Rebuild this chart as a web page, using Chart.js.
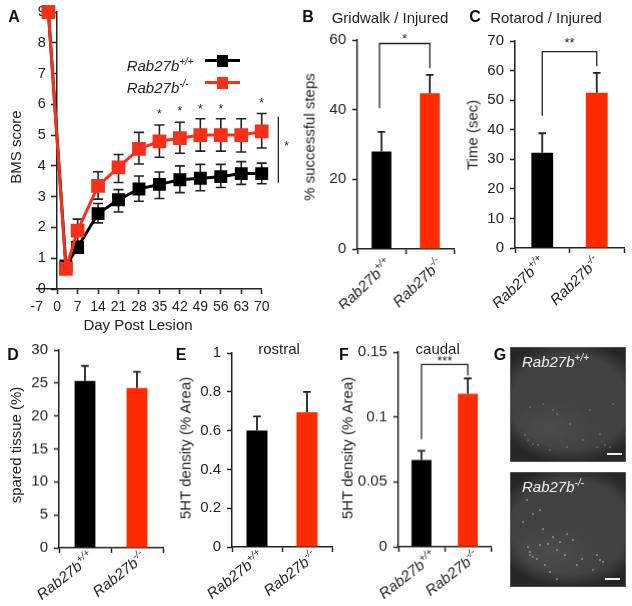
<!DOCTYPE html>
<html>
<head>
<meta charset="utf-8">
<script src="https://cdn.jsdelivr.net/npm/chart.js@4"></script>
<style>
  html, body { margin: 0; background: #fff; }
  #page { position: relative; width: 632px; height: 606px; overflow: hidden; font-family: "Liberation Sans", Arial, sans-serif; color: #222; filter: blur(0.35px); }
  canvas { position: absolute; }
  .txt { position: absolute; white-space: nowrap; transform: translate(-50%, -50%); font-size: 15px; }
  .letter { font-weight: bold; font-size: 16px; color: #111; }
  .ytitle { transform: translate(-50%, -50%) rotate(-90deg); }
  .gene { transform: translate(0, -50%); font-style: italic; font-size: 15px; }
  .gene sup { font-size: 10px; line-height: 0; }
  .photo { position: absolute; left: 510px; width: 115.5px; height: 115.5px; background-color: #262626; box-shadow: inset 0 0 0 0.5px #777; }
  .bar { position: absolute; height: 2px; background: #eee; }
  .swatch { position: absolute; height: 3px; }
  .swatch i { position: absolute; left: 12px; top: -4.5px; width: 11px; height: 12px; background: inherit; }
</style>
</head>
<body>
<div id="page"></div>
<script>
// --- Données ---
const days = [-3, 3, 7, 14, 21, 28, 35, 42, 49, 56, 63, 70];
const bmsWt = [9, 0.75, 1.35, 2.45, 2.9, 3.25, 3.4, 3.55, 3.6, 3.65, 3.75, 3.75];
const bmsKo = [9, 0.65, 1.9, 3.35, 3.95, 4.55, 4.8, 4.9, 5, 5, 5, 5.12];
const bmsWtHi = [null, null, 1.55, 2.78, 3.23, 3.67, 3.8, 4.0, 4.05, 4.05, 4.14, 4.09];
const bmsWtLo = [null, null, 1.2, 2.15, 2.5, 2.85, 2.94, 3.13, 3.19, 3.3, 3.4, 3.42];
const bmsKoHi = [null, null, 2.27, 3.81, 4.37, 5.09, 5.33, 5.42, 5.53, 5.53, 5.53, 5.7];
const bmsKoLo = [null, null, 1.55, 2.92, 3.46, 4.06, 4.28, 4.41, 4.48, 4.48, 4.45, 4.58];
const starDays = [35, 42, 49, 56, 70];
const starValues = [5.66, 5.76, 5.84, 5.84, 6.01];

const genotypes = ['Rab27b', 'Rab27b'];
const genotypeSups = ['+/+', '-/-'];

const gridwalk = [28, 44.7];
const gridwalkErr = [33.6, 50];
const rotarod = [32.2, 52.5];
const rotarodErr = [38.8, 59.2];
const spared = [25.3, 24.25];
const sparedErr = [27.6, 26.7];
const rostral = [0.6, 0.695];
const rostralErr = [0.673, 0.8];
const caudal = [0.0668, 0.1179];
const caudalErr = [0.074, 0.1297];

// Points lumineux des micrographies (repérés à l'œil, position en px dans la photo)
const specksWt = [[15, 88], [18, 93], [23, 97], [28, 98], [43, 63], [47, 67], [60, 77], [90, 87], [95, 98], [100, 100], [87, 100], [73, 93], [57, 100], [40, 103], [20, 60], [33, 57], [80, 63], [103, 57]];
const specksKo = [[20, 80], [23, 85], [18, 75], [33, 57], [38, 72], [43, 65], [57, 62], [63, 68], [47, 78], [55, 83], [30, 73], [27, 87], [20, 83], [87, 83], [90, 88], [93, 90], [83, 98], [40, 100], [47, 107], [17, 28], [23, 42], [30, 38], [13, 50], [67, 93], [72, 87], [50, 70], [35, 93]];

// --- Couleurs ---
const INK = '#222';
const RED = '#ff2a00';
const LINE_RED = '#f8301a';
const FONT = '"Liberation Sans", Arial, sans-serif';

const page = document.getElementById('page');

// --- Fonctions d'aide ---
function addText(text, x, y, cls = '') {
    const el = document.createElement('div');
    el.className = 'txt ' + cls;
    el.innerHTML = text;
    el.style.left = x + 'px';
    el.style.top = y + 'px';
    page.appendChild(el);
    return el;
}

function addCanvas(x, y, w, h) {
    const canvas = document.createElement('canvas');
    canvas.width = w;
    canvas.height = h;
    canvas.style.left = x + 'px';
    canvas.style.top = y + 'px';
    canvas.style.width = w + 'px';
    canvas.style.height = h + 'px';
    page.appendChild(canvas);
    return canvas;
}

// Barres d'erreur, placées avec les échelles du graphique
const errorBars = {
    id: 'errorBars',
    beforeDatasetsDraw(chart) {
        drawErrors(chart, 'line');
    },
    afterDatasetsDraw(chart) {
        drawErrors(chart, 'bar');
    }
};

function drawErrors(chart, type) {
    const ctx = chart.ctx;
    chart.data.datasets.forEach((ds, d) => {
        if (chart.config.type !== type || !ds.errHi) return;
        const meta = chart.getDatasetMeta(d);
        const y = chart.scales.y;
        ctx.save();
        ctx.strokeStyle = INK;
        ctx.lineWidth = type === 'bar' ? 1.8 : 1.6;
        const capHalf = type === 'bar' ? 3.8 : 5;
        ds.errHi.forEach((hi, i) => {
            if (hi === null) return;
            const px = meta.data[i].x;
            const lo = ds.errLo ? ds.errLo[i] : ds.data[i];
            const top = y.getPixelForValue(hi);
            const bottom = y.getPixelForValue(lo);
            ctx.beginPath();
            ctx.moveTo(px, top);
            ctx.lineTo(px, bottom);
            ctx.moveTo(px - capHalf, top);
            ctx.lineTo(px + capHalf, top);
            if (ds.errLo) {
                ctx.moveTo(px - capHalf, bottom);
                ctx.lineTo(px + capHalf, bottom);
            }
            ctx.stroke();
        });
        ctx.restore();
    });
}
Chart.register(errorBars);

// Libellés de l'axe x en italique, tournés, avec exposant
function geneTicks(shifts, drop, angle) {
    return {
        id: 'geneTicks',
        afterDraw(chart) {
            const ctx = chart.ctx;
            const x = chart.scales.x;
            genotypes.forEach((name, i) => {
                const sup = genotypeSups[i];
                ctx.save();
                ctx.translate(x.getPixelForTick(i) + shifts[i], x.top + drop);
                ctx.rotate(-angle * Math.PI / 180);
                ctx.fillStyle = INK;
                ctx.textAlign = 'right';
                ctx.textBaseline = 'middle';
                ctx.font = 'italic 10px ' + FONT;
                const supWidth = ctx.measureText(sup).width;
                ctx.fillText(sup, 0, -5);
                ctx.font = 'italic 15px ' + FONT;
                ctx.fillText(name, -supWidth, 0);
                ctx.restore();
            });
        }
    };
}

function starText(ctx, text, x, y, size = 13) {
    ctx.fillStyle = INK;
    ctx.font = size + 'px ' + FONT;
    ctx.textAlign = 'center';
    ctx.textBaseline = 'middle';
    ctx.fillText(text, x, y);
}

// Crochet de significativité entre les deux barres
function bracket(leftValue, topValue, rightValue, stars, shift, starLift) {
    return {
        id: 'bracket',
        afterDraw(chart) {
            const ctx = chart.ctx;
            const x = chart.scales.x;
            const y = chart.scales.y;
            const x1 = x.getPixelForTick(0) + shift;
            const x2 = x.getPixelForTick(1);
            const top = y.getPixelForValue(topValue);
            ctx.save();
            ctx.strokeStyle = INK;
            ctx.lineWidth = 1.3;
            ctx.beginPath();
            ctx.moveTo(x1, y.getPixelForValue(leftValue));
            ctx.lineTo(x1, top);
            ctx.lineTo(x2, top);
            ctx.lineTo(x2, y.getPixelForValue(rightValue));
            ctx.stroke();
            starText(ctx, stars, (x1 + x2) / 2, top - starLift);
            ctx.restore();
        }
    };
}

function fixedAxis(size) {
    return scale => {
        if (scale.isHorizontal()) scale.height = size;
        else scale.width = size;
    };
}

function yAxisBase(max, step) {
    return {
        min: 0,
        max: max,
        afterFit: fixedAxis(45),
        border: { color: INK, width: 1.5 },
        grid: { drawOnChartArea: false, color: INK, tickLength: 5, tickWidth: 1.5 },
        ticks: {
            stepSize: step,
            color: INK,
            padding: 6,
            font: { family: FONT, size: 15 },
            callback: v => String(+v.toFixed(2))
        }
    };
}

// Les panneaux à deux barres partagent la même construction
function barPanel(left, top, right, bottom, max, step, values, errs, barShare, extras) {
    const canvas = addCanvas(left - 45, top - 20, right - left + 55, bottom - top + 20 + 60);
    return new Chart(canvas, {
        type: 'bar',
        data: {
            labels: genotypes,
            datasets: [{
                data: values,
                errHi: errs,
                backgroundColor: [ '#000', RED ],
                barPercentage: barShare,
                categoryPercentage: 1
            }]
        },
        options: {
            responsive: false,
            animation: false,
            layout: { padding: { top: 20, right: 10, left: 0, bottom: 0 } },
            plugins: { legend: { display: false }, tooltip: { enabled: false } },
            scales: {
                x: {
                    afterFit: fixedAxis(60),
                    border: { color: INK, width: 1.5 },
                    grid: { offset: true, drawOnChartArea: false, color: INK, tickLength: 5, tickWidth: 1.5 },
                    ticks: { display: false }
                },
                y: yAxisBase(max, step)
            }
        },
        plugins: extras
    });
}

// --- Panneau A ---
function renderBmsPanel() {
    const canvas = addCanvas(0, 0, 300, 340);
    new Chart(canvas, {
        type: 'line',
        data: {
            datasets: [
                {
                    data: days.map((d, i) => ({ x: d, y: bmsWt[i] })),
                    errHi: bmsWtHi, errLo: bmsWtLo,
                    borderColor: '#000', backgroundColor: '#000',
                    borderWidth: 3, pointStyle: 'rect', pointRadius: 7, order: 2, clip: false
                },
                {
                    data: days.map((d, i) => ({ x: d, y: bmsKo[i] })),
                    errHi: bmsKoHi, errLo: bmsKoLo,
                    borderColor: LINE_RED, backgroundColor: LINE_RED,
                    borderWidth: 3, pointStyle: 'rect', pointRadius: 7.6, order: 1, clip: false
                }
            ]
        },
        options: {
            responsive: false,
            animation: false,
            layout: { padding: { top: 12, right: 38.3, left: 0, bottom: 0 } },
            plugins: { legend: { display: false }, tooltip: { enabled: false } },
            scales: {
                x: {
                    type: 'linear',
                    min: -7,
                    max: 70,
                    afterFit: fixedAxis(51),
                    border: { color: INK, width: 1.5 },
                    grid: {
                        drawOnChartArea: false,
                        tickLength: 5,
                        tickWidth: 1.5,
                        color: ctx => (ctx.tick && ctx.tick.value === -7 ? 'transparent' : INK)
                    },
                    ticks: {
                        stepSize: 7,
                        color: INK,
                        padding: 5,
                        maxRotation: 0,
                        autoSkip: false,
                        font: { family: FONT, size: 14 }
                    }
                },
                // Libellés à gauche, axe tracé séparément sur x = 0
                y: {
                    min: 0,
                    max: 9,
                    afterFit: fixedAxis(36.7),
                    border: { display: false },
                    grid: { display: false },
                    ticks: {
                        stepSize: 1,
                        mirror: true,
                        padding: 1,
                        color: INK,
                        font: { family: FONT, size: 14.5 }
                    }
                },
                yAxisLine: {
                    axis: 'y',
                    type: 'linear',
                    position: { x: 0 },
                    min: 0,
                    max: 9,
                    border: { color: INK, width: 1.5 },
                    grid: { drawOnChartArea: false, color: INK, tickLength: 5, tickWidth: 1.5 },
                    ticks: { stepSize: 1, display: false }
                }
            }
        },
        plugins: [{
            id: 'bmsStars',
            afterDatasetsDraw(chart) {
                const ctx = chart.ctx;
                const x = chart.scales.x;
                const y = chart.scales.y;
                ctx.save();
                starDays.forEach((d, i) => starText(ctx, '*', x.getPixelForValue(d), y.getPixelForValue(starValues[i]), 12));
                // Trait vertical et étoile à droite de la courbe
                ctx.strokeStyle = INK;
                ctx.lineWidth = 1.3;
                ctx.beginPath();
                ctx.moveTo(x.getPixelForValue(75.7), y.getPixelForValue(5.6));
                ctx.lineTo(x.getPixelForValue(75.7), y.getPixelForValue(3.45));
                ctx.stroke();
                starText(ctx, '*', x.getPixelForValue(78.5), y.getPixelForValue(4.64), 12);
                ctx.restore();
            }
        }]
    });
}

function addSwatch(left, top, color) {
    const el = document.createElement('div');
    el.className = 'swatch';
    el.style.cssText = `left:${left}px;top:${top}px;width:35px;background:${color}`;
    el.appendChild(document.createElement('i'));
    page.appendChild(el);
}

function addPhoto(top, label, barTop, barLeft, specks, alpha) {
    const el = document.createElement('div');
    el.className = 'photo';
    el.style.top = top + 'px';
    const spots = specks.map(([x, y]) => `radial-gradient(circle 1.5px at ${x}px ${y}px, rgba(255,255,255,${alpha}), transparent)`);
    el.style.backgroundImage = spots.concat([
        'radial-gradient(ellipse 50px 30px at 35% 70%, rgba(255,255,255,.05), transparent)',
        'radial-gradient(ellipse 78px 62px at 52% 48%, rgba(255,255,255,.13) 75%, transparent)'
    ]).join(',');
    page.appendChild(el);
    addText(label, 522, top + 14, 'gene').style.color = '#eee';
    const bar = document.createElement('div');
    bar.className = 'bar';
    bar.style.cssText = `left:${barLeft}px;top:${barTop}px;width:15px`;
    page.appendChild(bar);
}

// --- Construction de la page ---
renderBmsPanel();

barPanel(357.3, 40, 454, 249.3, 60, 20, gridwalk, gridwalkErr, 0.41,
    [bracket(40.4, 59, 51.9, '*', -2, 4), geneTicks([8, 11], 13, 44)]);
barPanel(515, 40.7, 624, 248, 70, 10, rotarod, rotarodErr, 0.4,
    [bracket(44.7, 66.4, 61.5, '**', 0, 8), geneTicks([1, 1], 12, 44)]);
barPanel(59, 350.3, 163, 548.3, 30, 5, spared, sparedErr, 0.4, [geneTicks([7, 7], 8, 38)]);
barPanel(231.7, 353, 332, 547, 1, 0.2, rostral, rostralErr, 0.42, [geneTicks([5, 8], 8, 38)]);
barPanel(398.3, 352.3, 490.7, 547, 0.15, 0.05, caudal, caudalErr, 0.43,
    [bracket(0.083, 0.1405, 0.132, '***', 0, 3), geneTicks([13, 9], 8, 38)]);

// Textes hors échelles
addText('A', 14, 17, 'letter');
addText('B', 308, 17, 'letter');
addText('C', 475, 17, 'letter');
addText('D', 13, 355, 'letter');
addText('E', 181, 355, 'letter');
addText('F', 344, 355, 'letter');
addText('G', 500, 355, 'letter');

addText('Gridwalk / Injured', 390, 17);
addText('Rotarod / Injured', 546, 17);
addText('rostral', 279, 348);
addText('caudal', 437.7, 348);

addText('Day Post Lesion', 138, 324);
addText('BMS score', 15, 147, 'ytitle');
addText('% successful steps', 309, 137, 'ytitle');
addText('Time (sec)', 472.3, 135, 'ytitle');
addText('spared tissue (%)', 15, 444.5, 'ytitle');
addText('5HT density (% Area)', 185, 448, 'ytitle');
addText('5HT density (% Area)', 346.7, 448, 'ytitle');

// Légende du panneau A
addText('Rab27b<sup>+/+</sup>', 126.7, 65, 'gene');
addText('Rab27b<sup>-/-</sup>', 126.7, 86.5, 'gene');
addSwatch(205, 59, '#000');
addSwatch(205, 81, LINE_RED);

// Panneau G : micrographies
addPhoto(346.7, 'Rab27b<sup>+/+</sup>', 453, 606.7, specksWt, 0.3);
addPhoto(471.7, 'Rab27b<sup>-/-</sup>', 578, 605, specksKo, 0.6);
</script>
</body>
</html>
